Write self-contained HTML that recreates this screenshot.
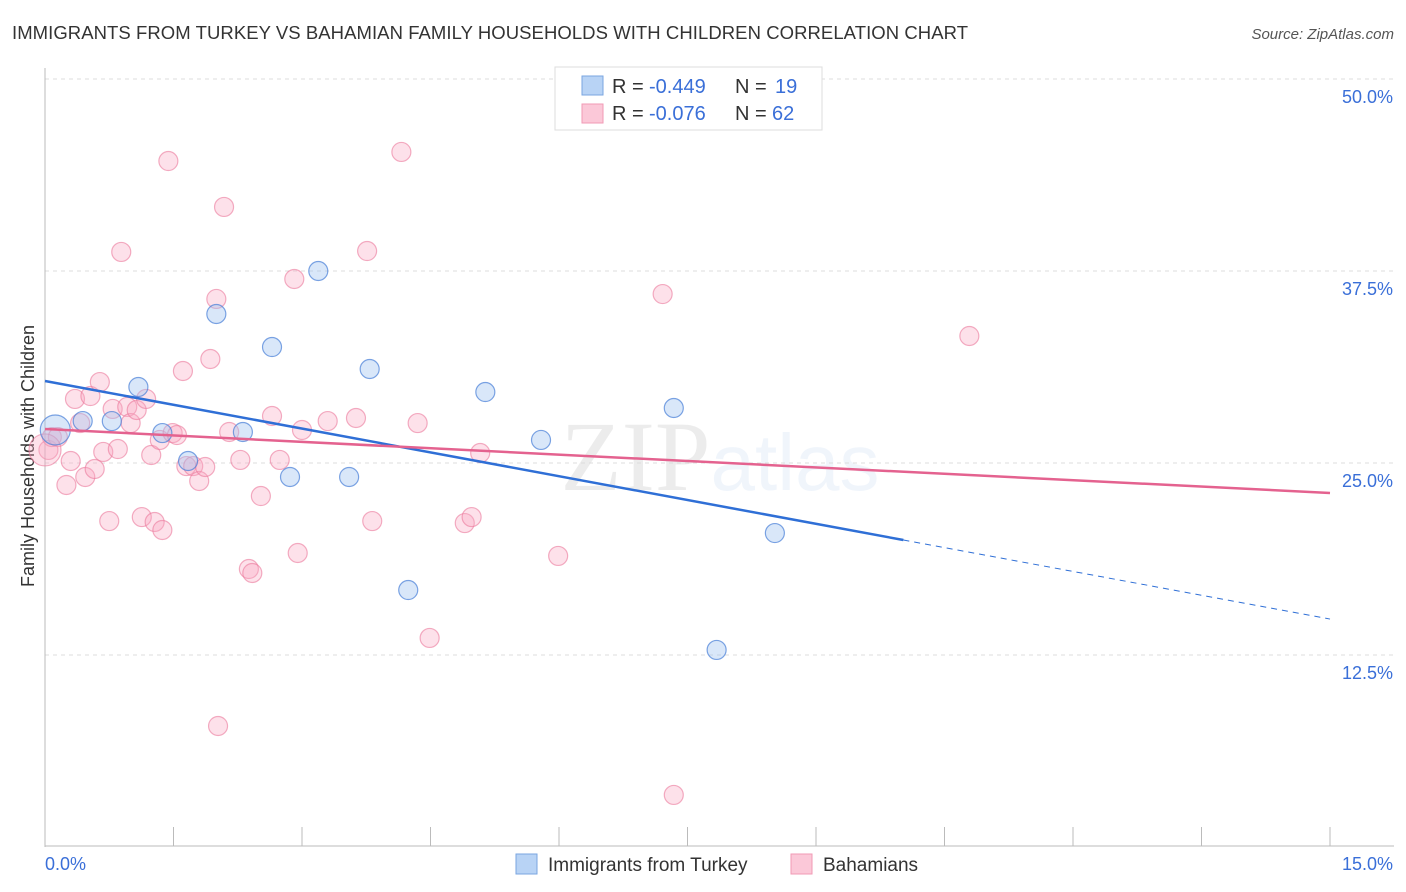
<!DOCTYPE html>
<html><head><meta charset="utf-8">
<style>
body{margin:0;background:#fff;font-family:"Liberation Sans",sans-serif;}
svg{display:block}
</style></head>
<body>
<svg id="chart" width="1406" height="892">
<text x="12" y="39" font-size="18.5" fill="#333" textLength="956">IMMIGRANTS FROM TURKEY VS BAHAMIAN FAMILY HOUSEHOLDS WITH CHILDREN CORRELATION CHART</text>
<text x="1394" y="39" font-size="15" fill="#555" font-style="italic" text-anchor="end">Source: ZipAtlas.com</text>
<text x="34" y="456" font-size="18" fill="#333" text-anchor="middle" transform="rotate(-90 34 456)">Family Households with Children</text>
<text x="720" y="490" font-size="100" fill="#000" opacity="0.07" text-anchor="middle" font-family="Liberation Serif">ZIP<tspan fill="#3a7bd5" opacity="1" font-family="Liberation Sans" font-size="80">atlas</tspan></text>
<g id="grid"></g>
<g id="axes"></g>
<g id="pts"></g>
<g id="lines"></g>
<g>
<rect x="555" y="67" width="267" height="63" fill="#fff" stroke="#ddd"/>
<rect x="582" y="76" width="21" height="19" fill="#b8d3f5" stroke="#7aa6e0"/>
<rect x="582" y="104" width="21" height="19" fill="#fbc8d8" stroke="#f09ab5"/>
<text x="612" y="93" font-size="20" fill="#333">R =</text>
<text x="649" y="93" font-size="20" fill="#3a6fd8">-0.449</text>
<text x="735" y="93" font-size="20" fill="#333">N =</text>
<text x="775" y="93" font-size="20" fill="#3a6fd8">19</text>
<text x="612" y="120" font-size="20" fill="#333">R =</text>
<text x="649" y="120" font-size="20" fill="#3a6fd8">-0.076</text>
<text x="735" y="120" font-size="20" fill="#333">N =</text>
<text x="772" y="120" font-size="20" fill="#3a6fd8">62</text>
</g>
<g>
<rect x="516" y="854" width="21" height="20" fill="#b8d3f5" stroke="#7aa6e0"/>
<text x="548" y="871" font-size="19" fill="#333">Immigrants from Turkey</text>
<rect x="791" y="854" width="21" height="20" fill="#fbc8d8" stroke="#f09ab5"/>
<text x="823" y="871" font-size="19" fill="#333">Bahamians</text>
</g>
</svg>
<script>
const xTicks=[0,1.5,3,4.5,6,7.5,9,10.5,12,13.5,15];
const yTicks=[12.5,25,37.5,50];
const yTickLabels=["12.5%","25.0%","37.5%","50.0%"];
const turkeyX=[0.12,0.44,0.78,1.09,1.37,1.67,2.00,2.31,2.65,2.86,3.19,3.55,3.79,4.24,5.14,5.79,7.34,7.84,8.52];
const turkeyY=[27.15,27.73,27.73,29.95,26.95,25.13,34.70,27.02,32.55,24.09,37.50,24.09,31.12,16.73,29.62,26.50,28.58,12.83,20.44];
const bahX=[0.04,0.08,0.15,0.25,0.30,0.35,0.41,0.47,0.53,0.58,0.64,0.68,0.75,0.79,0.85,0.89,0.96,1.00,1.07,1.13,1.18,1.24,1.28,1.34,1.37,1.44,1.49,1.54,1.61,1.65,1.73,1.80,1.87,1.93,2.00,2.09,2.15,2.28,2.38,2.42,2.52,2.65,2.74,2.91,2.95,3.00,3.30,3.63,3.76,3.82,4.16,4.35,4.49,4.90,4.98,5.08,5.99,7.21,7.34,2.02,10.79,0.0];
const bahY=[25.85,26.69,26.69,23.57,25.13,29.17,27.60,24.09,29.36,24.61,30.27,25.72,21.22,28.52,25.91,38.74,28.65,27.60,28.45,21.48,29.17,25.52,21.16,26.50,20.64,44.66,26.95,26.82,30.99,24.80,24.80,23.83,24.74,31.77,35.68,41.67,27.02,25.20,18.10,17.84,22.85,28.06,25.20,36.98,19.14,27.15,27.73,27.93,38.80,21.22,45.25,27.60,13.61,21.09,21.48,25.65,18.95,36.00,3.39,7.88,33.27,25.85];
const turkeyTrend=[30.34,14.84]; const turkeySolidEnd=10.02;
const bahTrend=[27.21,23.05];
const NS="http://www.w3.org/2000/svg";
const X=v=>45+v/15*1285, Y=v=>847-v/12.5*192;
function mk(p,t,a){const e=document.createElementNS(NS,t);for(const k in a)e.setAttribute(k,a[k]);document.getElementById(p).appendChild(e);return e;}
yTicks.forEach((t,i)=>{
 const g=mk('grid','line',{x1:45,x2:1394,y1:Y(t),y2:Y(t),stroke:'#ddd','stroke-dasharray':'4,4'});
 
 
 const l=mk('grid','text',{x:1393,y:Y(t)+24,'font-size':18,fill:'#3a6fd8','text-anchor':'end'});l.textContent=yTickLabels[i];
 
 
});
mk('axes','line',{x1:45,x2:45,y1:68,y2:847,stroke:'#bbb'});
mk('axes','line',{x1:45,x2:1394,y1:846,y2:846,stroke:'#bbb'});
xTicks.forEach(t=>{const e=mk('axes','line',{x1:X(t),x2:X(t),y1:827,y2:846,stroke:'#bbb'});
 
 });
let a=mk('axes','text',{x:45,y:870,'font-size':18,fill:'#3a6fd8'});a.textContent='0.0%';


a=mk('axes','text',{x:1393,y:870,'font-size':18,fill:'#3a6fd8','text-anchor':'end'});a.textContent='15.0%';


bahX.forEach((x,i)=>{const r=(i===bahX.length-1)?16:9.5;const c=mk('pts','circle',{cx:X(x),cy:Y(bahY[i]),r:r,fill:'rgba(248,170,195,0.35)',stroke:'rgba(235,120,155,0.6)','stroke-width':1.2});
 
 });
turkeyX.forEach((x,i)=>{const r=i===0?15:9.5;const c=mk('pts','circle',{cx:X(x),cy:Y(turkeyY[i]),r:r,fill:'rgba(160,195,240,0.4)',stroke:'rgba(70,125,215,0.7)','stroke-width':1.2});
 
 });
const ty=x=>turkeyTrend[0]+(turkeyTrend[1]-turkeyTrend[0])*x/15;
let l=mk('lines','line',{x1:X(0),y1:Y(turkeyTrend[0]),x2:X(turkeySolidEnd),y2:Y(ty(turkeySolidEnd)),stroke:'#2f6fd6','stroke-width':2.5});


l=mk('lines','line',{x1:X(turkeySolidEnd),y1:Y(ty(turkeySolidEnd)),x2:X(15),y2:Y(turkeyTrend[1]),stroke:'#2f6fd6','stroke-width':1,'stroke-dasharray':'6,5'});


l=mk('lines','line',{x1:X(0),y1:Y(bahTrend[0]),x2:X(15),y2:Y(bahTrend[1]),stroke:'#e4628f','stroke-width':2.5});


</script>
</body></html>
